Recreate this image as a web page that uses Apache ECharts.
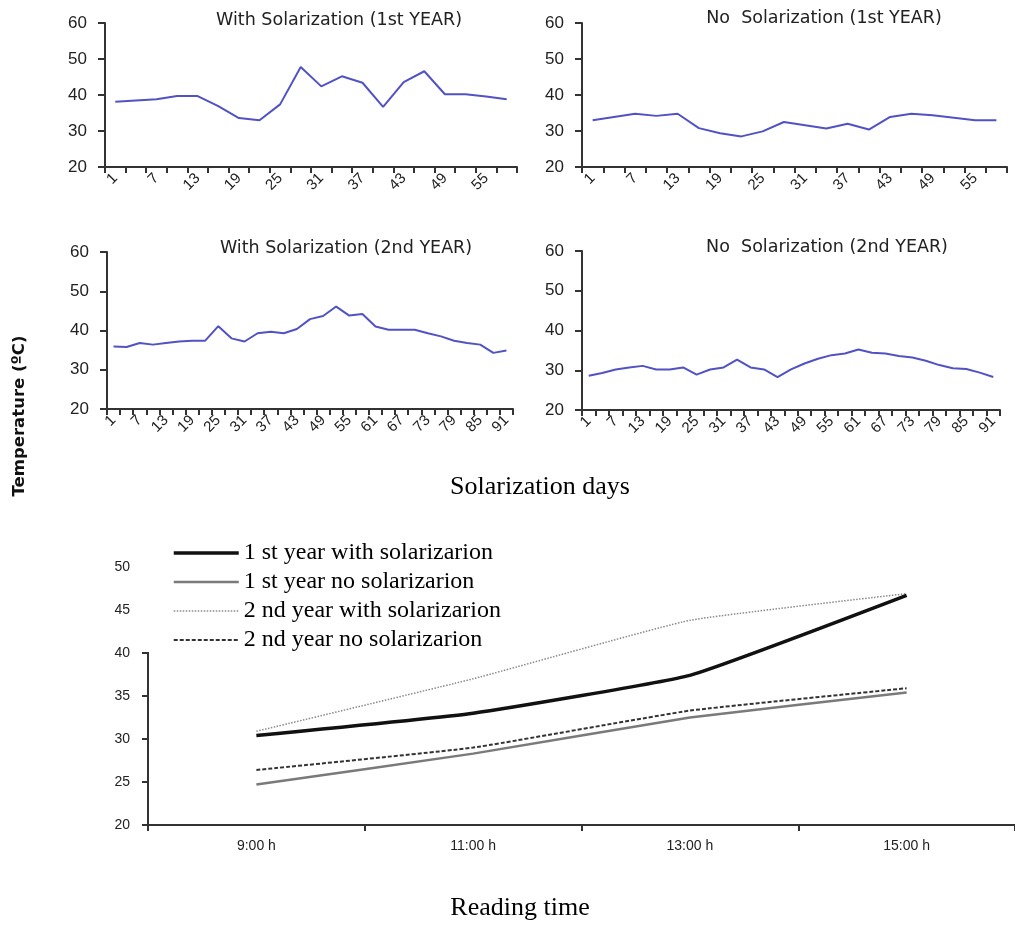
<!DOCTYPE html>
<html>
<head>
<meta charset="utf-8">
<script src="https://cdn.jsdelivr.net/npm/echarts@6/dist/echarts.min.js"></script>
<style>html,body{margin:0;padding:0;background:#fff;}#c{width:1015px;height:926px;}</style>
</head>
<body>
<div id="c"></div>
<script>
// ---- data ----
const days1 = ['1','4','7','10','13','16','19','22','25','28','31','34','37','40','43','46','49','52','55','58'];
const withSol1 = [38.1,38.5,38.8,39.7,39.7,36.9,33.6,33.0,37.4,47.8,42.4,45.2,43.4,36.7,43.6,46.6,40.2,40.2,39.6,38.8];
const noSol1 = [33.0,33.9,34.8,34.2,34.8,30.8,29.4,28.5,29.9,32.5,31.6,30.7,32.0,30.4,33.9,34.8,34.4,33.7,33.0,33.0];
const days2 = ['1','4','7','10','13','16','19','22','25','28','31','34','37','40','43','46','49','52','55','58','61','64','67','70','73','76','79','82','85','88','91'];
const withSol2 = [35.9,35.8,36.8,36.4,36.8,37.2,37.4,37.4,41.1,38.0,37.2,39.3,39.7,39.3,40.4,42.9,43.7,46.1,43.8,44.2,41.0,40.2,40.2,40.2,39.3,38.5,37.4,36.8,36.4,34.3,34.9];
const noSol2 = [28.6,29.3,30.2,30.7,31.1,30.2,30.2,30.7,28.9,30.2,30.7,32.7,30.7,30.2,28.3,30.2,31.7,32.9,33.8,34.2,35.2,34.4,34.2,33.6,33.2,32.4,31.3,30.5,30.3,29.4,28.3];
const panelTitles = ['With Solarization (1st YEAR)','No  Solarization (1st YEAR)','With Solarization (2nd YEAR)','No  Solarization (2nd YEAR)'];

const times = ['9:00 h','11:00 h','13:00 h','15:00 h'];
const y1With = [30.4, 33.0, 37.4, 46.7];
const y1No = [24.7, 28.3, 32.5, 35.4];
const y2With = [30.9, 37.0, 43.8, 46.9];
const y2No = [26.4, 29.0, 33.3, 35.9];
const seriesNames = ['1 st year with solarizarion','1 st year no solarizarion','2 nd year with solarizarion','2 nd year no solarizarion'];
const topTicks = [20, 60, 10];
const botTicks = [20, 50, 5];

// ---- chart ----
const chart = echarts.init(document.getElementById('c'), null, {renderer:'canvas'});
const axisCol = '#333';
const smallGrids = [
  {left:105, top:23, width:412, height:144},
  {left:582, top:23, width:425, height:144},
  {left:107, top:252, width:406, height:157},
  {left:582, top:251, width:418, height:159}
];
const smallCats = [days1, days1, days2, days2];
const smallData = [withSol1, noSol1, withSol2, noSol2];

const grid = smallGrids.slice();
grid.push({left:148, top:567, width:871, height:258});

const xAxis = [], yAxis = [], series = [];
for (let i = 0; i < 4; i++) {
  xAxis.push({
    type:'category', gridIndex:i, data: smallCats[i], boundaryGap:true,
    axisLine:{lineStyle:{color:axisCol, width:2}},
    axisTick:{show:true, interval:0, length:6, lineStyle:{color:axisCol, width:2}},
    axisLabel:{interval:1, rotate:45, margin:9, fontSize:15, fontFamily:'Arial', color:'#222'},
    splitLine:{show:false}
  });
  yAxis.push({
    type:'value', gridIndex:i, min:topTicks[0], max:topTicks[1], interval:topTicks[2],
    axisLine:{show:true, lineStyle:{color:axisCol, width:2}},
    axisTick:{show:true, length:7, lineStyle:{color:axisCol, width:2}},
    axisLabel:{fontSize:17, fontFamily:'Arial', color:'#222', margin:18},
    splitLine:{show:false}
  });
  series.push({
    type:'line', xAxisIndex:i, yAxisIndex:i, data: smallData[i],
    symbol:'none', lineStyle:{color:'#5252c4', width:2}, silent:true, z:3
  });
}
xAxis.push({
  type:'category', gridIndex:4, data: times, boundaryGap:true,
  axisLine:{lineStyle:{color:axisCol, width:2}},
  axisTick:{show:true, length:6, lineStyle:{color:axisCol, width:2}},
  axisLabel:{fontSize:14, fontFamily:'Arial', color:'#222', margin:14},
  splitLine:{show:false}
});
yAxis.push({
  type:'value', gridIndex:4, min:botTicks[0], max:botTicks[1], interval:botTicks[2],
  axisLine:{show:true, lineStyle:{color:axisCol, width:2}},
  axisTick:{show:true, length:6, lineStyle:{color:axisCol, width:2}},
  axisLabel:{fontSize:14, fontFamily:'Arial', color:'#222', margin:18},
  splitLine:{show:false}
});
const botStyles = [
  {color:'#111', width:3.5, type:'solid'},
  {color:'#7a7a7a', width:2.5, type:'solid'},
  {color:'#8a8a8a', width:1.5, type:'dotted'},
  {color:'#333', width:2, type:[4,2]}
];
const botData = [y1With, y1No, y2With, y2No];
for (let k = 0; k < 4; k++) {
  series.push({
    type:'line', name: seriesNames[k], xAxisIndex:4, yAxisIndex:4, data: botData[k],
    symbol:'none', smooth:0.12, lineStyle: botStyles[k], itemStyle:{color: botStyles[k].color}, z: 3 + (4 - k)
  });
}

const graphic = [];
const titlePos = [[339,20],[824,18],[346,248],[827,247]];
for (let i = 0; i < 4; i++) {
  graphic.push({type:'text', x:titlePos[i][0], y:titlePos[i][1], z:10,
    style:{text:panelTitles[i], font:'17.5px "DejaVu Sans"', fill:'#222', align:'center', verticalAlign:'middle'}});
}
graphic.push({type:'text', x:20, y:416, rotation:Math.PI/2, z:10,
  style:{text:'Temperature (ºC)', font:'bold 16.5px "DejaVu Sans"', fill:'#111', align:'center', verticalAlign:'middle'}});
graphic.push({type:'text', x:540, y:487, z:10,
  style:{text:'Solarization days', font:'26px "Liberation Serif"', fill:'#000', align:'center', verticalAlign:'middle'}});
graphic.push({type:'text', x:520, y:908, z:10,
  style:{text:'Reading time', font:'26px "Liberation Serif"', fill:'#000', align:'center', verticalAlign:'middle'}});

chart.setOption({
  animation:false,
  backgroundColor:'#fff',
  grid: grid,
  xAxis: xAxis,
  yAxis: yAxis,
  series: series,
  legend:{
    show:true, orient:'vertical', left:138, top:539,
    backgroundColor:'#fff', padding:[2, 8, 0, 34],
    itemWidth:65, itemHeight:14, itemGap:5,
    data: seriesNames.map((n, k) => ({
      name:n,
      itemStyle:{color:'rgba(0,0,0,0)', borderWidth:0, opacity:0},
      lineStyle:{width: botStyles[k].width, type: botStyles[k].type, color: botStyles[k].color}
    })),
    textStyle:{fontFamily:'"Liberation Serif"', fontSize:24, color:'#000'}
  },
  graphic: graphic
});
</script>
</body>
</html>
